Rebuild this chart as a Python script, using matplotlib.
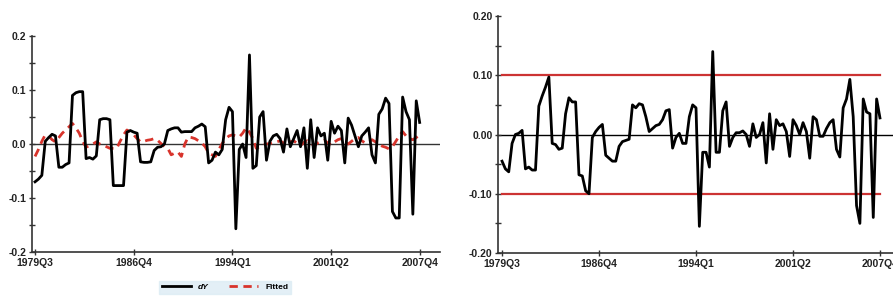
import numpy as np
import matplotlib
matplotlib.use("Agg")
import matplotlib.pyplot as plt
from matplotlib.ticker import MultipleLocator

# quarterly data, 1979Q3 .. 2007Q4 (114 quarters)
tick_pos = [0, 29, 58, 87, 113]
tick_labels = ["1979Q3", "1986Q4", "1994Q1", "2001Q2", "2007Q4"]

dY = [-0.070, -0.065, -0.058, 0.005, 0.012, 0.018, 0.015, -0.043, -0.043, -0.038,
      -0.035, 0.090, 0.095, 0.097, 0.097, -0.027, -0.025, -0.028, -0.022, 0.045,
      0.047, 0.047, 0.045, -0.077, -0.077, -0.077, -0.077, 0.022, 0.025, 0.022,
      0.020, -0.033, -0.034, -0.034, -0.033, -0.012, -0.006, -0.005, 0.000, 0.025,
      0.028, 0.030, 0.030, 0.022, 0.023, 0.023, 0.023, 0.030, 0.033, 0.037,
      0.032, -0.035, -0.030, -0.015, -0.020, -0.010, 0.045, 0.068, 0.060, -0.157,
      -0.010, 0.000, -0.025, 0.165, -0.045, -0.040, 0.050, 0.060, -0.030, 0.005,
      0.015, 0.018, 0.010, -0.015, 0.028, -0.005, 0.010, 0.025, -0.005, 0.030,
      -0.045, 0.045, -0.025, 0.030, 0.015, 0.020, -0.030, 0.042, 0.020, 0.033,
      0.025, -0.035, 0.048, 0.035, 0.015, -0.005, 0.015, 0.022, 0.030, -0.020,
      -0.035, 0.055, 0.065, 0.085, 0.075, -0.125, -0.137, -0.137, 0.087, 0.060,
      0.045, -0.130, 0.080, 0.040]

fitted = [-0.023, -0.010, 0.005, 0.017, 0.015, 0.008, 0.004, 0.012, 0.020, 0.026,
          0.032, 0.038, 0.030, 0.020, 0.005, -0.006, -0.003, 0.000, 0.004, 0.000,
          -0.002, -0.005, -0.008, -0.008, -0.008, 0.005, 0.017, 0.026, 0.022, 0.017,
          0.010, 0.004, 0.005, 0.007, 0.008, 0.010, 0.007, 0.001, -0.004, -0.008,
          -0.020, -0.017, -0.015, -0.023, 0.000, 0.013, 0.012, 0.010, 0.006, 0.002,
          -0.005, -0.017, -0.020, -0.023, -0.010, 0.001, 0.010, 0.015, 0.017, 0.015,
          0.013, 0.020, 0.030, 0.022, 0.010, -0.008, -0.005, -0.002, 0.000, 0.001,
          0.003, 0.004, 0.006, 0.002, -0.002, 0.004, 0.006, 0.001, -0.003, 0.003,
          0.006, 0.002, -0.003, 0.002, 0.005, 0.007, 0.002, -0.002, 0.004, 0.008,
          0.010, 0.004, 0.000, 0.005, 0.010, 0.012, 0.006, 0.002, 0.004, 0.008,
          0.004, 0.000, -0.004, -0.006, -0.009, -0.005, 0.005, 0.015, 0.023, 0.015,
          0.010, 0.008, 0.012, 0.017]

resid = [-0.045, -0.058, -0.063, -0.015, 0.000, 0.002, 0.007, -0.058, -0.055, -0.060,
         -0.060, 0.048, 0.065, 0.080, 0.097, -0.015, -0.017, -0.025, -0.023, 0.035,
         0.062, 0.055, 0.055, -0.068, -0.070, -0.095, -0.100, -0.005, 0.005, 0.012,
         0.017, -0.035, -0.040, -0.045, -0.045, -0.020, -0.012, -0.010, -0.008, 0.050,
         0.045, 0.052, 0.050, 0.030, 0.005, 0.010, 0.015, 0.017, 0.025, 0.040,
         0.042, -0.023, -0.005, 0.002, -0.015, -0.015, 0.030, 0.050, 0.045, -0.155,
         -0.030, -0.030, -0.055, 0.140, -0.030, -0.030, 0.040, 0.055, -0.020, -0.005,
         0.003, 0.003, 0.006, 0.000, -0.020, 0.018, -0.005, 0.000, 0.020, -0.048,
         0.035, -0.025, 0.025, 0.015, 0.018, 0.005, -0.037, 0.025, 0.015, 0.000,
         0.020, 0.005, -0.040, 0.030, 0.025, -0.003, -0.003, 0.010, 0.020, 0.025,
         -0.025, -0.038, 0.045, 0.060, 0.093, 0.030, -0.120, -0.150, 0.060, 0.038,
         0.035, -0.140, 0.060, 0.028]

band = 0.10

plt.rcParams["font.family"] = ["Liberation Sans", "DejaVu Sans"]

fig = plt.figure(figsize=(8.93, 3.05), dpi=100)
ax_L = fig.add_axes([0.0358, 0.1738, 0.457, 0.708])
ax_R = fig.add_axes([0.5577, 0.1705, 0.4423, 0.777])

x = np.arange(len(dY))

# left: dY and fitted
ax_L.axhline(0, color="#333333", lw=1.0, zorder=1)
ax_L.plot(x, dY, color="black", lw=2.0, label="dY", zorder=3)
ax_L.plot(x, fitted, color="#d8342c", lw=2.0, dashes=(3, 2), label="Fitted", zorder=2)
ax_L.set_xlim(-0.9, 119)
ax_L.set_ylim(-0.2, 0.2)
ax_L.yaxis.set_major_locator(MultipleLocator(0.1))
ax_L.yaxis.set_minor_locator(MultipleLocator(0.05))
ax_L.set_yticklabels([])
ax_L.set_yticks([-0.2, -0.1, 0.0, 0.1, 0.2], ["-0.2", "-0.1", "0.0", "0.1", "0.2"])

# right: residual with +/- band
x2 = np.arange(len(resid))
ax_R.axhline(0, color="black", lw=1.0, zorder=1)
ax_R.plot([x2[0], x2[-1]], [band, band], color="#cc3333", lw=1.6, zorder=2)
ax_R.plot([x2[0], x2[-1]], [-band, -band], color="#cc3333", lw=1.6, zorder=2)
ax_R.plot(x2, resid, color="black", lw=2.0, zorder=3)
ax_R.set_xlim(-1.2, 116.9)
ax_R.set_ylim(-0.2, 0.2)
ax_R.yaxis.set_minor_locator(MultipleLocator(0.05))
ax_R.set_yticks([-0.2, -0.1, 0.0, 0.1, 0.2], ["-0.20", "-0.10", "0.00", "0.10", "0.20"])

for ax in (ax_L, ax_R):
    for s in ("top", "right"):
        ax.spines[s].set_visible(False)
    ax.spines["left"].set_color("#333333")
    ax.spines["bottom"].set_color("#333333")
    ax.spines["left"].set_linewidth(1.2)
    ax.spines["bottom"].set_linewidth(1.2)
    ax.set_xticks(tick_pos, tick_labels)
    ax.tick_params(axis="both", which="major", direction="inout", length=5,
                   width=1.0, color="#333333", labelsize=7.5, pad=1.5)
    ax.tick_params(axis="y", which="minor", direction="inout", length=4,
                   width=1.0, color="#333333")
    for lab in ax.get_xticklabels() + ax.get_yticklabels():
        lab.set_fontweight("bold")
        lab.set_color("#222222")

leg = fig.legend(handles=ax_L.get_lines()[1:], labels=["dY", "Fitted"],
                 loc="center", bbox_to_anchor=(0.252, 0.058), ncol=2,
                 fontsize=6, frameon=True, facecolor="#dcecf4", edgecolor="#dcecf4",
                 handlelength=3.5, columnspacing=2.5, borderpad=0.3, fancybox=False)
leg.get_texts()[0].set_fontstyle("italic")
for t in leg.get_texts():
    t.set_fontweight("bold")

fig.savefig("out.png", dpi=100)
